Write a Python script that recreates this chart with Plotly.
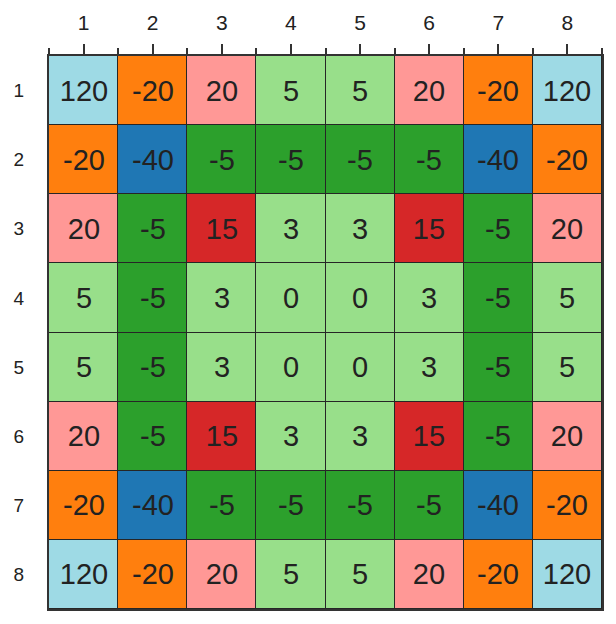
import plotly.graph_objs as go

# board weights (row 1 at top)
labels = [1, 2, 3, 4, 5, 6, 7, 8]
weights = [
    [120, -20, 20, 5, 5, 20, -20, 120],
    [-20, -40, -5, -5, -5, -5, -40, -20],
    [20, -5, 15, 3, 3, 15, -5, 20],
    [5, -5, 3, 0, 0, 3, -5, 5],
    [5, -5, 3, 0, 0, 3, -5, 5],
    [20, -5, 15, 3, 3, 15, -5, 20],
    [-20, -40, -5, -5, -5, -5, -40, -20],
    [120, -20, 20, 5, 5, 20, -20, 120],
]

# tab20 palette, used as a stepped colour scale
tab20 = ["#1f77b4", "#aec7e8", "#ff7f0e", "#ffbb78", "#2ca02c", "#98df8a",
         "#d62728", "#ff9896", "#9467bd", "#c5b0d5", "#8c564b", "#c49c94",
         "#e377c2", "#f7b6d2", "#7f7f7f", "#c7c7c7", "#bcbd22", "#dbdb8d",
         "#17becf", "#9edae5"]

def stepped_scale(colors):
    n = len(colors)
    scale = []
    for i, c in enumerate(colors):
        scale.append([i / n, c])
        scale.append([(i + 1) / n, c])
    return scale

# plain hyphen minus signs, like the reference
cell_text = [[str(v) for v in row] for row in weights]

fig = go.Figure()

fig.add_trace(go.Heatmap(
    z=weights,
    x=labels,
    y=labels,
    text=cell_text,
    texttemplate="%{text}",
    colorscale=stepped_scale(tab20),
    zmin=-40,
    zmax=120,
    showscale=False,
    xgap=1,
    ygap=1,
    textfont=dict(size=29, color="#222222", family="Liberation Sans, Arial"),
    hoverinfo="skip",
))

fig.update_layout(
    width=616,
    height=624,
    margin=dict(l=41, r=22, t=48, b=23),
    plot_bgcolor="#262626",
    paper_bgcolor="white",
    font=dict(family="Liberation Sans, Arial", size=16, color="#222222"),
    xaxis=dict(
        side="top",
        range=[0.5, 8.5],
        tickvals=labels,
        ticks="outside",
        ticklen=10,
        tickwidth=2,
        tickcolor="#333333",
        tickfont=dict(size=21),
        ticklabelstandoff=6,
        minor=dict(tickvals=[0.5, 1.5, 2.5, 3.5, 4.5, 5.5, 6.5, 7.5, 8.5],
                   ticks="outside", ticklen=6, tickwidth=1.5, tickcolor="#333333"),
        showgrid=False,
        zeroline=False,
        showline=True,
        linecolor="#333333",
        linewidth=2,
        mirror=True,
        automargin=False,
    ),
    yaxis=dict(
        range=[8.5, 0.5],
        tickvals=labels,
        ticks="",
        ticklabelstandoff=19,
        showgrid=False,
        zeroline=False,
        showline=True,
        linecolor="#333333",
        linewidth=2,
        mirror=True,
        tickfont=dict(size=19),
        automargin=False,
    ),
)

fig.write_html("out.html")
